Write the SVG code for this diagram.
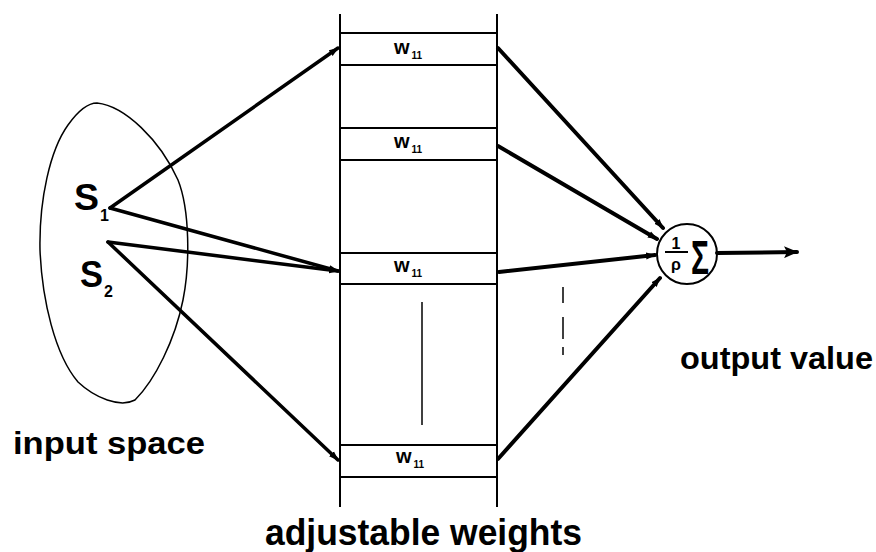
<svg xmlns="http://www.w3.org/2000/svg" width="876" height="552" viewBox="0 0 876 552">
<defs>
<marker id="ah" viewBox="0 0 10 8" refX="9" refY="4" markerWidth="10" markerHeight="8" markerUnits="userSpaceOnUse" orient="auto"><path d="M0,0.5 L10,4 L0,7.5 z" fill="#000"/></marker>
<marker id="ahbig" viewBox="0 0 14 12" refX="13" refY="6" markerWidth="14" markerHeight="12" markerUnits="userSpaceOnUse" orient="auto"><path d="M0,0 L14,6 L0,12 L3,6 z" fill="#000"/></marker>
</defs>
<style>
.thin{stroke:#000;stroke-width:2;fill:none}
.hair{stroke:#000;stroke-width:1.5;fill:none}
.conn{stroke:#000;stroke-width:3.5;fill:none;stroke-linecap:round}
.connR{stroke:#000;stroke-width:4;fill:none;stroke-linecap:round}
.lbl{font-family:"Liberation Sans",Arial,sans-serif;font-weight:bold;fill:#000}
.w{font-size:20px}
.sub{font-size:10px}
.big{font-size:32px}
</style>
<rect width="876" height="552" fill="#fff"/>

<g id="input-space">
<path class="hair" d="M97,103 C125,106 160,140 178,180 C190,210 190,265 183,300 C175,340 155,380 135,400 C120,408 95,398 78,382 C55,355 42,300 40,250 C39,200 50,150 68,125 C78,111 88,103 97,103 Z"/>
<text class="lbl" x="74" y="210" font-size="36" font-weight="normal" textLength="25" lengthAdjust="spacingAndGlyphs">S</text>
<text class="lbl" x="100" y="221" font-size="16">1</text>
<text class="lbl" x="80" y="287" font-size="36" font-weight="normal" textLength="23" lengthAdjust="spacingAndGlyphs">S</text>
<text class="lbl" x="104" y="297" font-size="16">2</text>
<text class="lbl big" x="13" y="454" textLength="192" lengthAdjust="spacingAndGlyphs">input space</text>
</g>

<g id="weights">
<line class="thin" x1="340" y1="14" x2="340" y2="507"/>
<line class="thin" x1="497" y1="14" x2="497" y2="507"/>
<line class="thin" x1="340" y1="33" x2="497" y2="33"/>
<line class="thin" x1="340" y1="65" x2="497" y2="65"/>
<line class="thin" x1="340" y1="128" x2="497" y2="128"/>
<line class="thin" x1="340" y1="160" x2="497" y2="160"/>
<line class="thin" x1="340" y1="253" x2="497" y2="253"/>
<line class="thin" x1="340" y1="284" x2="497" y2="284"/>
<line class="thin" x1="340" y1="445" x2="497" y2="445"/>
<line class="thin" x1="340" y1="477" x2="497" y2="477"/>
<line class="hair" x1="422" y1="302" x2="422" y2="425"/>
<text class="lbl w" x="394" y="54">w<tspan class="sub" dx="2" dy="5">11</tspan></text>
<text class="lbl w" x="394" y="148">w<tspan class="sub" dx="2" dy="5">11</tspan></text>
<text class="lbl w" x="394" y="272">w<tspan class="sub" dx="2" dy="5">11</tspan></text>
<text class="lbl w" x="396" y="463">w<tspan class="sub" dx="2" dy="5">11</tspan></text>
<text class="lbl" x="265" y="545" font-size="36" textLength="317" lengthAdjust="spacingAndGlyphs">adjustable weights</text>
</g>

<g id="summation">
<circle cx="687" cy="254" r="30" fill="#fff" stroke="#000" stroke-width="2"/>
<text class="lbl" x="676" y="249" font-size="16" text-anchor="middle">1</text>
<line x1="665" y1="252" x2="688" y2="252" stroke="#000" stroke-width="2"/>
<text class="lbl" x="676" y="270" font-size="16" text-anchor="middle" font-weight="normal">ρ</text>
<text class="lbl" x="691" y="274" font-size="48" font-weight="normal" textLength="18" lengthAdjust="spacingAndGlyphs">Σ</text>
</g>

<g id="output">
<text class="lbl big" x="680" y="369" textLength="193" lengthAdjust="spacingAndGlyphs">output value</text>
</g>

<g id="connectors">
<line class="conn" x1="110" y1="208" x2="338" y2="48" marker-end="url(#ah)"/>
<line class="conn" x1="110" y1="208" x2="338" y2="271" marker-end="url(#ah)"/>
<line class="conn" x1="108" y1="242" x2="338" y2="271" marker-end="url(#ah)"/>
<line class="conn" x1="108" y1="242" x2="338" y2="460" marker-end="url(#ah)"/>
<line class="connR" x1="498" y1="48" x2="663" y2="228" marker-end="url(#ah)"/>
<line class="connR" x1="498" y1="146" x2="657" y2="239" marker-end="url(#ah)"/>
<line class="connR" x1="499" y1="272" x2="655" y2="255" marker-end="url(#ah)"/>
<line class="connR" x1="498" y1="459" x2="660" y2="278" marker-end="url(#ah)"/>
<line class="connR" x1="717" y1="253" x2="797" y2="252" marker-end="url(#ahbig)"/>
<line stroke="#000" stroke-width="1.5" stroke-dasharray="16,14,22,8" x1="563" y1="287" x2="563" y2="355"/>
</g>
</svg>
